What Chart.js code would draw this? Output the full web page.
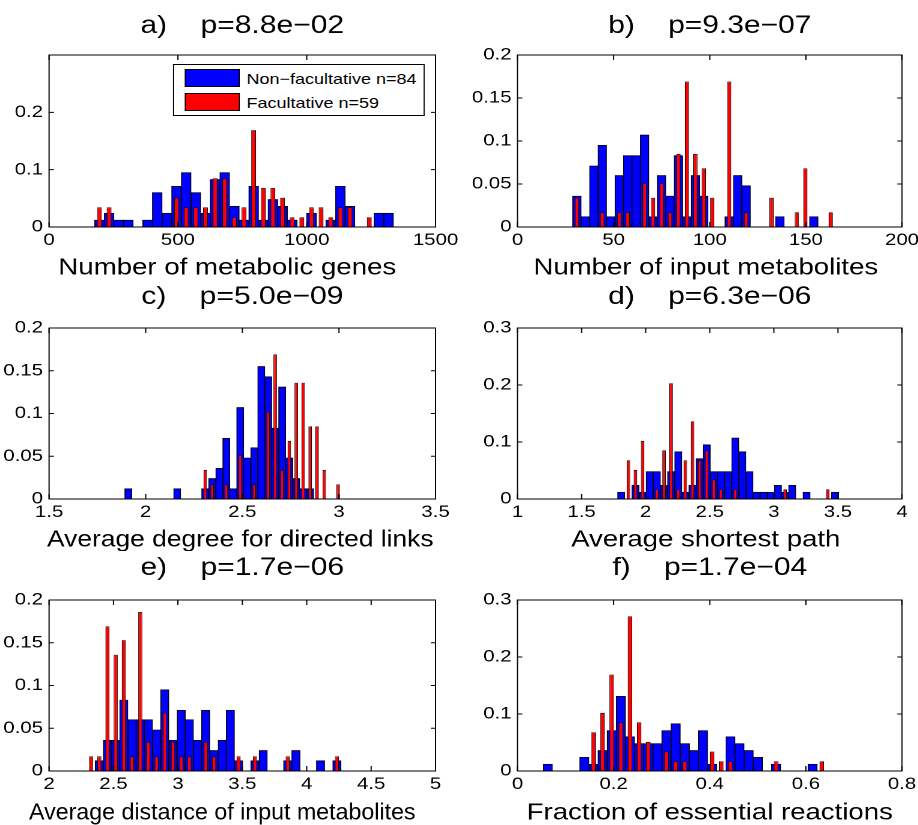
<!DOCTYPE html>
<html>
<head>
<meta charset="utf-8">
<script src="https://cdn.jsdelivr.net/npm/chart.js@4.4.1/dist/chart.umd.min.js"></script>
<style>
  html, body { margin: 0; padding: 0; background: #fff; overflow: hidden; }
  #stage { position: absolute; left: 0; top: 0; width: 765px; height: 825px; transform: scaleX(1.2); transform-origin: 0 0; }
  .panel { position: absolute; }
  .panel canvas { display: block; }
  .legend { position: absolute; background: #fff; border: 1px solid #000; padding: 1px 6px 1px 9px;
            font: 15px 'Liberation Sans', Arial, sans-serif; color: #000; }
  .item { display: flex; align-items: center; height: 24px; white-space: nowrap; }
  .swatch { display: inline-block; width: 44px; height: 16px; border: 1px solid #000; margin-right: 5px; }
</style>
</head>
<body>
<div id="stage"></div>
<script>
// series names
const seriesNames = ['Non\u2212facultative n=84', 'Facultative n=59'];

// a) number of metabolic genes
const genesBins = [195.5, 232.9, 270.3, 307.7, 345.1, 382.5, 419.9, 457.3, 494.7, 532.1, 569.5, 606.9, 644.3, 681.7, 719.1, 756.5,
  793.9, 831.3, 868.7, 906.1, 943.5, 980.9, 1018.3, 1055.7, 1093.1, 1130.5, 1167.9, 1205.3, 1242.7, 1280.1, 1317.5];
const genesNonFac = [0.012, 0.024, 0.012, 0.012, 0, 0.012, 0.060, 0.024, 0.071, 0.095, 0.060, 0.024, 0.083, 0.095, 0.036, 0.012,
  0.071, 0.012, 0.048, 0.036, 0.012, 0, 0.024, 0, 0.012, 0.071, 0.036, 0, 0, 0.024, 0.024];
const genesFac = [0.034, 0.034, 0, 0, 0, 0, 0, 0, 0.051, 0.034, 0.034, 0.034, 0.085, 0.085, 0.017, 0.034,
  0.169, 0.068, 0.068, 0.051, 0.017, 0.017, 0.034, 0.034, 0.017, 0.034, 0.034, 0, 0.017, 0, 0];
const genesXTicks = [0, 500, 1000, 1500];
const genesYTicks = [0, 0.1, 0.2];

// b) number of input metabolites
const inputBins = [30.9, 35.3, 39.7, 44.1, 48.5, 52.9, 57.3, 61.7, 66.1, 70.5, 74.9, 79.3, 83.7, 88.1, 92.5, 96.9,
  101.3, 105.7, 110.1, 114.5, 118.9, 123.3, 127.7, 132.1, 136.5, 140.9, 145.3, 149.7, 154.1, 158.5, 162.9];
const inputNonFac = [0.036, 0.012, 0.071, 0.095, 0.012, 0.060, 0.083, 0.083, 0.107, 0.012, 0.060, 0.036, 0.083, 0.012, 0.060, 0.036,
  0, 0, 0.012, 0.060, 0.048, 0, 0, 0, 0.012, 0, 0, 0, 0.012, 0, 0];
const inputFac = [0.034, 0, 0, 0.017, 0, 0.017, 0.017, 0, 0.051, 0.034, 0.051, 0.017, 0.085, 0.169, 0.085, 0.068,
  0.034, 0, 0.169, 0, 0.017, 0, 0, 0.034, 0, 0, 0.017, 0.068, 0, 0, 0.017];
const inputXTicks = [0, 50, 100, 150, 200];
const inputYTicks = [0, 0.05, 0.1, 0.15, 0.2];

// c) average degree for directed links
const degreeBins = [1.910, 1.946, 1.982, 2.019, 2.055, 2.091, 2.127, 2.163, 2.200, 2.236, 2.272, 2.308, 2.344, 2.381, 2.417, 2.453,
  2.489, 2.525, 2.562, 2.598, 2.634, 2.670, 2.706, 2.743, 2.779, 2.815, 2.851, 2.887, 2.924, 2.960, 2.996];
const degreeNonFac = [0.012, 0, 0, 0, 0, 0, 0, 0.012, 0, 0, 0, 0.012, 0.024, 0.036, 0.071, 0.012,
  0.107, 0.048, 0.060, 0.155, 0.143, 0.083, 0.131, 0.048, 0.024, 0.012, 0.012, 0, 0, 0, 0];
const degreeFac = [0, 0, 0, 0, 0, 0, 0, 0, 0, 0, 0, 0.034, 0.017, 0, 0.017, 0,
  0.051, 0, 0.017, 0, 0.102, 0.169, 0.034, 0.068, 0.136, 0.136, 0.085, 0.085, 0.034, 0, 0.017];
const degreeXTicks = [1.5, 2, 2.5, 3, 3.5];
const degreeYTicks = [0, 0.05, 0.1, 0.15, 0.2];

// d) average shortest path
const pathBins = [1.809, 1.865, 1.920, 1.976, 2.031, 2.087, 2.143, 2.198, 2.254, 2.309, 2.365, 2.421, 2.476, 2.532, 2.587, 2.643,
  2.699, 2.754, 2.810, 2.865, 2.921, 2.977, 3.032, 3.088, 3.143, 3.199, 3.255, 3.310, 3.366, 3.421, 3.477];
const pathNonFac = [0.012, 0, 0.024, 0.012, 0.048, 0.048, 0.024, 0.048, 0.083, 0.012, 0.024, 0.071, 0.095, 0.048, 0.048, 0.048,
  0.107, 0.083, 0.048, 0.012, 0.012, 0.012, 0.024, 0.012, 0.024, 0, 0.012, 0, 0, 0, 0.012];
const pathFac = [0, 0.068, 0.051, 0.102, 0, 0.017, 0.085, 0.203, 0.017, 0.068, 0.136, 0.068, 0.085, 0.034, 0.017, 0,
  0.017, 0, 0, 0, 0, 0, 0, 0.017, 0, 0, 0, 0, 0, 0.017, 0];
const pathXTicks = [1, 1.5, 2, 2.5, 3, 3.5, 4];
const pathYTicks = [0, 0.1, 0.2, 0.3];

// e) average distance of input metabolites
const distBins = [2.326, 2.390, 2.453, 2.517, 2.580, 2.644, 2.708, 2.771, 2.835, 2.898, 2.962, 3.026, 3.089, 3.153, 3.216, 3.280,
  3.344, 3.407, 3.471, 3.534, 3.598, 3.662, 3.725, 3.789, 3.852, 3.916, 3.980, 4.043, 4.107, 4.170, 4.234];
const distNonFac = [0, 0.012, 0.036, 0.036, 0.083, 0.060, 0.060, 0.060, 0.048, 0.095, 0.036, 0.071, 0.060, 0.036, 0.071, 0.024,
  0.036, 0.071, 0.012, 0, 0.012, 0.024, 0, 0, 0.012, 0.024, 0, 0, 0.012, 0, 0.012];
const distFac = [0.017, 0.017, 0.169, 0.136, 0.153, 0.017, 0.186, 0.034, 0.017, 0.068, 0.034, 0.017, 0.017, 0, 0.034, 0.017,
  0, 0, 0.017, 0, 0.017, 0, 0, 0, 0.017, 0, 0, 0, 0, 0, 0.017];
const distXTicks = [2, 2.5, 3, 3.5, 4, 4.5, 5];
const distYTicks = [0, 0.05, 0.1, 0.15, 0.2];

// f) fraction of essential reactions
const essBins = [0.063, 0.082, 0.101, 0.120, 0.139, 0.158, 0.177, 0.196, 0.215, 0.234, 0.253, 0.272, 0.291, 0.310, 0.329, 0.348,
  0.367, 0.386, 0.405, 0.424, 0.443, 0.462, 0.481, 0.500, 0.519, 0.538, 0.557, 0.576, 0.595, 0.614, 0.633];
const essNonFac = [0.012, 0, 0, 0, 0.024, 0.012, 0.036, 0.071, 0.131, 0.060, 0.048, 0.048, 0.048, 0.071, 0.083, 0.048,
  0.036, 0.071, 0.012, 0, 0.060, 0.048, 0.036, 0.024, 0, 0.012, 0, 0, 0, 0.012, 0];
const essFac = [0, 0, 0, 0, 0, 0.068, 0.102, 0.169, 0.085, 0.271, 0.085, 0.051, 0, 0.034, 0.017, 0.017,
  0, 0, 0.034, 0.017, 0.017, 0, 0, 0, 0, 0.017, 0, 0, 0, 0, 0.017];
const essXTicks = [0, 0.2, 0.4, 0.6, 0.8];
const essYTicks = [0, 0.1, 0.2, 0.3];

const titles = ['a)    p=8.8e\u221202', 'b)    p=9.3e\u221207', 'c)    p=5.0e\u221209',
  'd)    p=6.3e\u221206', 'e)    p=1.7e\u221206', 'f)    p=1.7e\u221204'];
const xLabels = ['Number of metabolic genes', 'Number of input metabolites', 'Average degree for directed links',
  'Average shortest path', 'Average distance of input metabolites', 'Fraction of essential reactions'];

// the whole figure is stretched sideways, like the picture
const S = 1.2;
const FONT = "'Liberation Sans', Arial, Helvetica, sans-serif";
Chart.defaults.font.family = FONT;
Chart.defaults.color = '#000';

// axes boxes in screen pixels
const cols = [
  {left: 49, right: 435, from: 0, to: 459},
  {left: 517, right: 902, from: 459, to: 918}
];
const rows = [
  {top: 55, bottom: 227, from: 9, to: 280, title: 26, label: 268},
  {top: 328, bottom: 499, from: 280, to: 551, title: 297, label: 540},
  {top: 600, bottom: 771, from: 551, to: 825, title: 568, label: 813}
];

// labelShift: some x labels sit left of the axes centre in the picture
const panels = [
  {col: 0, row: 0, bins: genesBins, nonFac: genesNonFac, fac: genesFac, xTicks: genesXTicks, yTicks: genesYTicks, yMax: 0.3, legend: true, labelShift: -15},
  {col: 1, row: 0, bins: inputBins, nonFac: inputNonFac, fac: inputFac, xTicks: inputXTicks, yTicks: inputYTicks, yMax: 0.2, labelShift: -4},
  {col: 0, row: 1, bins: degreeBins, nonFac: degreeNonFac, fac: degreeFac, xTicks: degreeXTicks, yTicks: degreeYTicks, yMax: 0.2, labelShift: -2},
  {col: 1, row: 1, bins: pathBins, nonFac: pathNonFac, fac: pathFac, xTicks: pathXTicks, yTicks: pathYTicks, yMax: 0.3, labelShift: -4},
  {col: 0, row: 2, bins: distBins, nonFac: distNonFac, fac: distFac, xTicks: distXTicks, yTicks: distYTicks, yMax: 0.2, labelShift: -20},
  {col: 1, row: 2, bins: essBins, nonFac: essNonFac, fac: essFac, xTicks: essXTicks, yTicks: essYTicks, yMax: 0.3, labelShift: 0}
];

function fmt(v) {
  return String(+Number(v).toFixed(3));
}

// matlab style box with inward ticks
const axesBox = {
  id: 'axesBox',
  afterDatasetsDraw(chart) {
    const {ctx, chartArea: a, scales: {x, y}} = chart;
    ctx.save();
    ctx.strokeStyle = '#000';
    ctx.lineWidth = 1;
    ctx.beginPath();
    x.ticks.forEach(t => {
      const px = x.getPixelForValue(t.value);
      ctx.moveTo(px, a.bottom); ctx.lineTo(px, a.bottom - 5);
      ctx.moveTo(px, a.top); ctx.lineTo(px, a.top + 5);
    });
    y.ticks.forEach(t => {
      const py = y.getPixelForValue(t.value);
      ctx.moveTo(a.left, py); ctx.lineTo(a.left + 4, py);
      ctx.moveTo(a.right, py); ctx.lineTo(a.right - 4, py);
    });
    ctx.stroke();
    ctx.strokeRect(a.left, a.top, a.right - a.left, a.bottom - a.top);
    ctx.restore();
  }
};

// x label under the axis, no wider than the axis, shifted the way the picture has it
const xLabel = {
  id: 'xLabel',
  afterDraw(chart, args, opts) {
    const {ctx, chartArea: a} = chart;
    ctx.save();
    ctx.font = '23px ' + FONT;
    ctx.fillStyle = '#000';
    ctx.textAlign = 'center';
    ctx.textBaseline = 'middle';
    ctx.fillText(opts.text, (a.left + a.right) / 2 + opts.shift / S, opts.y, a.right - a.left);
    ctx.restore();
  }
};
Chart.register(axesBox, xLabel);

// boxed legend inside the plot, top right
const boxLegend = {
  id: 'boxLegend',
  afterUpdate(chart) {
    const holder = chart.canvas.parentNode;
    let box = holder.querySelector('.legend');
    if (!box) {
      box = document.createElement('div');
      box.className = 'legend';
      chart.data.datasets.forEach(ds => {
        const row = document.createElement('div');
        row.className = 'item';
        const sw = document.createElement('span');
        sw.className = 'swatch';
        sw.style.background = ds.backgroundColor;
        const tx = document.createElement('span');
        tx.textContent = ds.label;
        row.append(sw, tx);
        box.appendChild(row);
      });
      holder.appendChild(box);
    }
    const a = chart.chartArea;
    box.style.top = (a.top + 9) + 'px';
    box.style.right = (chart.width - a.right + 10 / S) + 'px';
  }
};

const stage = document.getElementById('stage');

panels.forEach((p, i) => {
  const c = cols[p.col];
  const r = rows[p.row];
  const div = document.createElement('div');
  div.className = 'panel';
  div.style.left = (c.from / S) + 'px';
  div.style.width = ((c.to - c.from) / S) + 'px';
  div.style.top = r.from + 'px';
  div.style.height = (r.to - r.from) + 'px';
  const canvas = document.createElement('canvas');
  div.appendChild(canvas);
  stage.appendChild(div);

  new Chart(canvas, {
    type: 'bar',
    data: {
      labels: p.bins,
      datasets: [{
        label: seriesNames[0],
        data: p.nonFac,
        backgroundColor: '#0000ff',
        borderColor: '#000',
        borderWidth: 0.8,
        barPercentage: 1,
        categoryPercentage: 1,
        grouped: false,
        order: 2
      }, {
        label: seriesNames[1],
        data: p.fac,
        backgroundColor: '#ff0000',
        borderColor: '#000',
        borderWidth: 0.6,
        barPercentage: 0.5,
        categoryPercentage: 1,
        grouped: false,
        order: 1
      }]
    },
    options: {
      responsive: true,
      maintainAspectRatio: false,
      animation: false,
      devicePixelRatio: 2,
      events: [],
      layout: {padding: {left: 0, top: 0, bottom: 0, right: (c.to - c.right) / S}},
      plugins: {
        legend: {display: false},
        tooltip: {enabled: false},
        title: {
          display: true,
          text: titles[i],
          fullSize: false,
          color: '#000',
          font: {size: 25, weight: 'normal', lineHeight: 1.2},
          padding: {top: r.title - r.from - 15, bottom: r.top - r.title - 15}
        },
        xLabel: {text: xLabels[i], shift: p.labelShift, y: r.label - r.from}
      },
      scales: {
        x: {
          type: 'linear',
          min: p.xTicks[0],
          max: p.xTicks[p.xTicks.length - 1],
          offset: false,
          grid: {display: false, drawTicks: false, offset: false},
          border: {display: false},
          afterBuildTicks: s => { s.ticks = p.xTicks.map(v => ({value: v})); },
          ticks: {autoSkip: false, maxRotation: 0, minRotation: 0, padding: 3, font: {size: 17}, callback: v => fmt(v)},
          afterFit: s => { s.height = r.to - r.bottom; s.paddingLeft = 0; s.paddingRight = 0; }
        },
        y: {
          min: 0,
          max: p.yMax,
          grid: {display: false, drawTicks: false},
          border: {display: false},
          afterBuildTicks: s => { s.ticks = p.yTicks.map(v => ({value: v})); },
          ticks: {padding: 5, font: {size: 17}, callback: v => fmt(v)},
          afterFit: s => { s.width = (c.left - c.from) / S; s.paddingTop = 0; s.paddingBottom = 0; }
        }
      }
    },
    plugins: p.legend ? [boxLegend] : []
  });
});
</script>
</body>
</html>
